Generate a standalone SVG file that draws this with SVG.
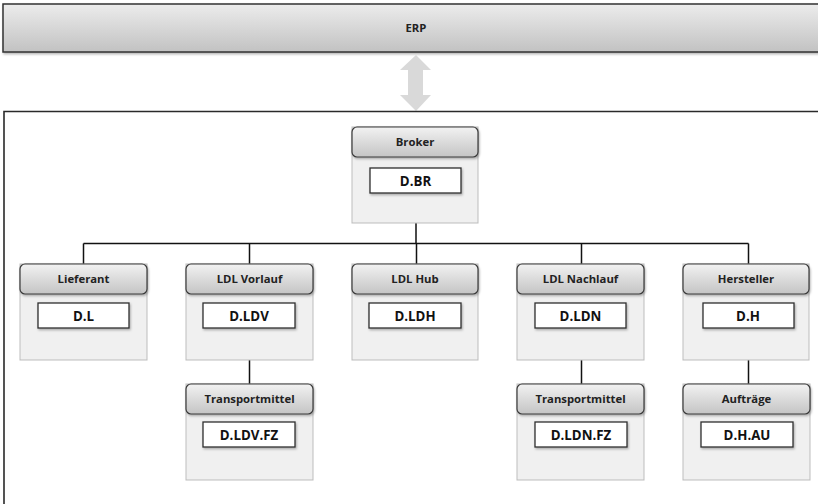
<svg xmlns="http://www.w3.org/2000/svg" width="818" height="504" viewBox="0 0 818 504">
<defs>
<linearGradient id="hdr" x1="0" y1="0" x2="0" y2="1">
<stop offset="0" stop-color="#f2f2f2"/>
<stop offset="1" stop-color="#c4c4c4"/>
</linearGradient>
<linearGradient id="erp" x1="0" y1="0" x2="0" y2="1">
<stop offset="0" stop-color="#ececec"/>
<stop offset="1" stop-color="#c2c2c2"/>
</linearGradient>
<filter id="sh" x="-10%" y="-10%" width="120%" height="140%">
<feDropShadow dx="1" dy="1.5" stdDeviation="1" flood-color="#000" flood-opacity="0.3"/>
</filter>
</defs>
<style>
.body{fill:#f0f0f0;stroke:#bdbdbd;stroke-width:1}
.head{fill:url(#hdr);stroke:#3a3a3a;stroke-width:1.2;filter:url(#sh)}
.inner{fill:#ffffff;stroke:#2e2e2e;stroke-width:1.3;filter:url(#sh)}
.ht{font-family:"Open Sans","Liberation Sans",sans-serif;font-weight:bold;font-size:11.3px;fill:#222;text-anchor:middle}
.it{font-family:"Open Sans","Liberation Sans",sans-serif;font-weight:bold;font-size:13.3px;fill:#111;text-anchor:middle}
.conn{stroke:#111;stroke-width:1.5;fill:none}
</style>
<rect width="818" height="504" fill="#ffffff"/>
<g id="erp-bar">
<rect x="3" y="4" width="820" height="48" fill="url(#erp)" stroke="#333" stroke-width="1.5" filter="url(#sh)"/>
<text class="ht" x="416" y="32">ERP</text>
</g>
<g id="erp-arrow">
<polygon points="416,55 431,70 423,70 423,95 431,95 416,111 400,95 408,95 408,70 400,70" fill="#d9d9d9"/>
</g>
<g id="frame">
<path d="M4,504 V111.5 H818" fill="none" stroke="#2a2a2a" stroke-width="1.6"/>
</g>
<g id="connectors">
<path class="conn" d="M416,223 V243.5 M83.5,243.5 H748.5 M83.5,243.5 V264 M249.5,243.5 V264 M416.5,243.5 V264 M581.5,243.5 V264 M748.5,243.5 V264 M249.5,360 V384 M581.5,360 V384 M748.5,360 V384"/>
</g>
<g id="broker">
<rect class="body" x="352" y="127" width="126" height="96"/>
<rect class="head" x="352" y="127" width="126" height="30" rx="5"/>
<text class="ht" x="415" y="146">Broker</text>
<rect class="inner" x="370" y="168" width="91" height="25"/>
<text class="it" x="415.5" y="185.5">D.BR</text>
</g>
<g id="lieferant">
<rect class="body" x="20" y="264" width="127" height="96"/>
<rect class="head" x="20" y="264" width="127" height="30" rx="5"/>
<text class="ht" x="83.5" y="283">Lieferant</text>
<rect class="inner" x="38" y="303" width="91" height="25"/>
<text class="it" x="83.5" y="320.5">D.L</text>
</g>
<g id="ldl-vorlauf">
<rect class="body" x="186" y="264" width="127" height="96"/>
<rect class="head" x="186" y="264" width="127" height="30" rx="5"/>
<text class="ht" x="249.5" y="283">LDL Vorlauf</text>
<rect class="inner" x="203" y="303" width="92" height="25"/>
<text class="it" x="249" y="320.5">D.LDV</text>
</g>
<g id="ldl-hub">
<rect class="body" x="352" y="264" width="126" height="96"/>
<rect class="head" x="352" y="264" width="126" height="30" rx="5"/>
<text class="ht" x="415" y="283">LDL Hub</text>
<rect class="inner" x="369" y="303" width="92" height="25"/>
<text class="it" x="415" y="320.5">D.LDH</text>
</g>
<g id="ldl-nachlauf">
<rect class="body" x="517" y="264" width="127" height="96"/>
<rect class="head" x="517" y="264" width="127" height="30" rx="5"/>
<text class="ht" x="580.5" y="283">LDL Nachlauf</text>
<rect class="inner" x="535" y="303" width="91" height="25"/>
<text class="it" x="580.5" y="320.5">D.LDN</text>
</g>
<g id="hersteller">
<rect class="body" x="683" y="264" width="126" height="96"/>
<rect class="head" x="683" y="264" width="126" height="30" rx="5"/>
<text class="ht" x="746" y="283">Hersteller</text>
<rect class="inner" x="703" y="303" width="91" height="25"/>
<text class="it" x="748" y="320.5">D.H</text>
</g>
<g id="transportmittel-ldv">
<rect class="body" x="186" y="384" width="127" height="96"/>
<rect class="head" x="186" y="384" width="127" height="30" rx="5"/>
<text class="ht" x="249.5" y="403">Transportmittel</text>
<rect class="inner" x="203" y="422" width="92" height="25"/>
<text class="it" x="249" y="439.5">D.LDV.FZ</text>
</g>
<g id="transportmittel-ldn">
<rect class="body" x="517" y="384" width="127" height="96"/>
<rect class="head" x="517" y="384" width="127" height="30" rx="5"/>
<text class="ht" x="580.5" y="403">Transportmittel</text>
<rect class="inner" x="535" y="422" width="92" height="25"/>
<text class="it" x="581" y="439.5">D.LDN.FZ</text>
</g>
<g id="auftraege">
<rect class="body" x="683" y="384" width="127" height="96"/>
<rect class="head" x="683" y="384" width="127" height="30" rx="5"/>
<text class="ht" x="746.5" y="403">Aufträge</text>
<rect class="inner" x="701" y="422" width="92" height="25"/>
<text class="it" x="747" y="439.5">D.H.AU</text>
</g>
</svg>
